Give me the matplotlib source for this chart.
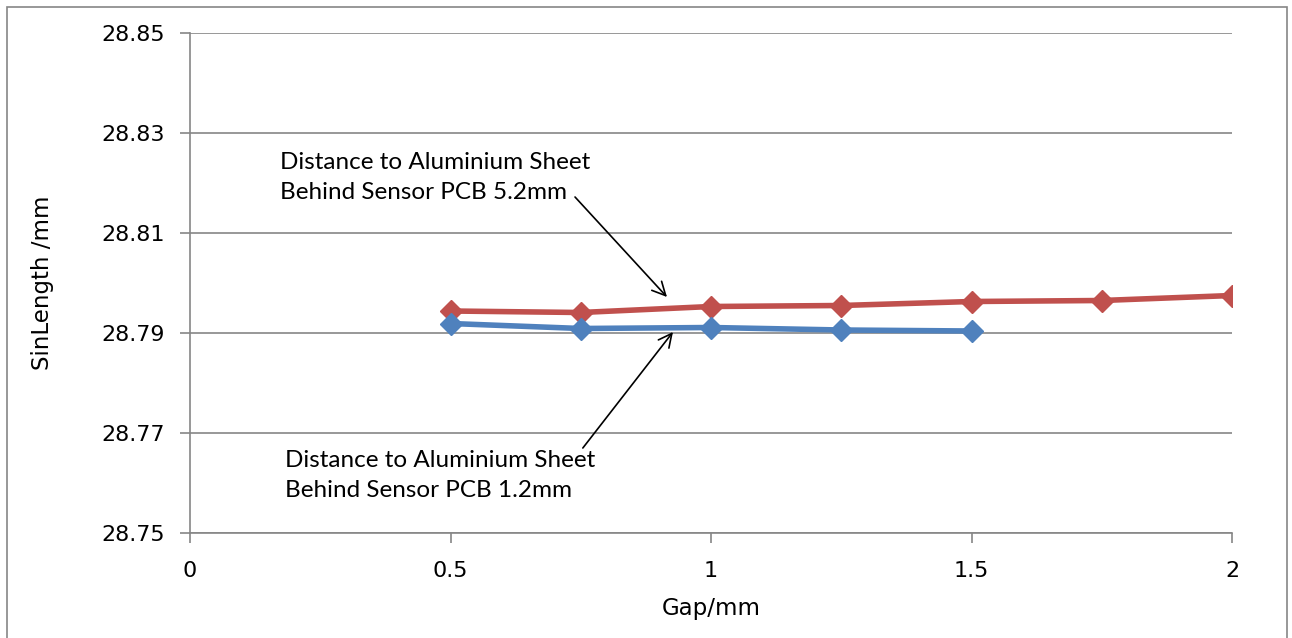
import matplotlib.pyplot as plt
from matplotlib.patches import Rectangle

gap = [0.5, 0.75, 1, 1.25, 1.5, 1.75, 2]
sheet_52 = [28.7944, 28.7941, 28.7953, 28.7955, 28.7963, 28.7965, 28.7975]
gap_12 = [0.5, 0.75, 1, 1.25, 1.5]
sheet_12 = [28.7919, 28.7909, 28.7911, 28.7906, 28.7904]

x_ticks = [0, 0.5, 1, 1.5, 2]
y_ticks = [28.75, 28.77, 28.79, 28.81, 28.83, 28.85]

label_52 = "Distance to Aluminium Sheet\nBehind Sensor PCB 5.2mm"
label_12 = "Distance to Aluminium Sheet\nBehind Sensor PCB 1.2mm"

W, H = 1292, 638
fig = plt.figure(figsize=(W / 100, H / 100), dpi=100)
ax = fig.add_axes([190 / W, (H - 533) / H, (1232 - 190) / W, 500 / H])

grey = "#868686"
ax.plot(gap, sheet_52, color="#C0504D", lw=4, marker="D", ms=11, zorder=3)
ax.plot(gap_12, sheet_12, color="#4F81BD", lw=4, marker="D", ms=11, zorder=3)

ax.set_xlim(0, 2)
ax.set_ylim(28.75, 28.85)
ax.set_xticks(x_ticks)
ax.set_xticklabels(["0", "0.5", "1", "1.5", "2"])
ax.set_yticks(y_ticks)
ax.set_yticklabels(["%.2f" % v for v in y_ticks])
ax.yaxis.grid(True, color=grey, lw=1.2)
ax.set_axisbelow(True)
for s in ["top", "right"]:
    ax.spines[s].set_visible(False)
for s in ["left", "bottom"]:
    ax.spines[s].set_color(grey)
    ax.spines[s].set_linewidth(1.2)
ax.tick_params(colors=grey, labelcolor="black", labelsize=16, length=7, width=1.2,
               labelfontfamily="DejaVu Sans")
ax.tick_params(axis="x", pad=13)
ax.tick_params(axis="y", pad=11)

ax.set_xlabel("Gap/mm", fontsize=16.5, family="DejaVu Sans", labelpad=12)
ax.set_ylabel("SinLength /mm", fontsize=16.5, family="DejaVu Sans", labelpad=34)

# text boxes
ax.text(0.172, 28.8211, label_52, fontsize=17.5, family="Lato", linespacing=1.55,
        ha="left", va="center")
ax.text(0.182, 28.7615, label_12, fontsize=17.5, family="Lato", linespacing=1.55,
        ha="left", va="center")

# arrows
arrow = dict(arrowstyle="->", color="black", lw=1.2, shrinkA=0, shrinkB=0,
             mutation_scale=24)
ax.annotate("", xy=(0.9155, 28.7972), xytext=(0.739, 28.8172), arrowprops=arrow)
ax.annotate("", xy=(0.927, 28.7902), xytext=(0.754, 28.7670), arrowprops=arrow)

fig.patches.append(Rectangle((7 / W, -0.02), (1287 - 7) / W, (H - 7) / H + 0.02,
                             transform=fig.transFigure, fill=False,
                             edgecolor=grey, lw=1.2))

fig.savefig("out.png", dpi=100)
